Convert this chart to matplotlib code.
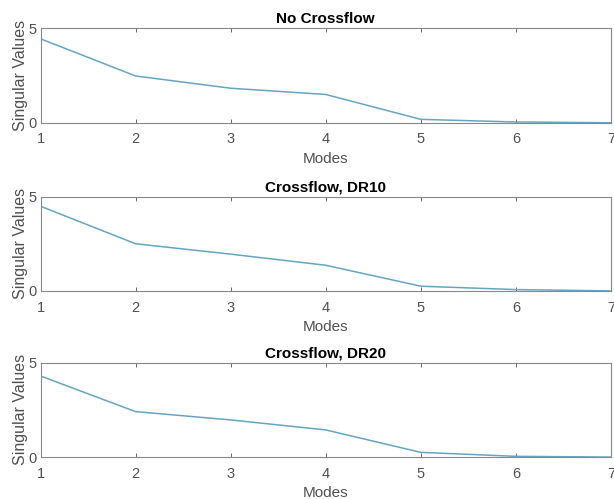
import matplotlib
matplotlib.use('Agg')
import matplotlib.pyplot as plt

plt.rcParams['font.family'] = ['Liberation Sans', 'DejaVu Sans']

modes = [1, 2, 3, 4, 5, 6, 7]
no_crossflow = [4.45, 2.48, 1.83, 1.50, 0.18, 0.04, 0.0]
crossflow_dr10 = [4.49, 2.50, 1.95, 1.36, 0.25, 0.07, 0.0]
crossflow_dr20 = [4.30, 2.41, 1.97, 1.44, 0.25, 0.04, 0.0]

titles = ['No Crossflow', 'Crossflow, DR10', 'Crossflow, DR20']
series = [no_crossflow, crossflow_dr10, crossflow_dr20]
bottoms = [0.754, 0.417, 0.084]

fig = plt.figure(figsize=(6.14, 4.99), dpi=100)

for title, values, b in zip(titles, series, bottoms):
    ax = fig.add_axes([0.066, b, 0.929, 0.189])
    ax.plot(modes, values, color='#64a6c2', linewidth=1.1)
    ax.set_xlim(1, 7)
    ax.set_ylim(0, 5)
    ax.set_xticks(modes)
    ax.set_yticks([0, 5])
    ax.set_title(title, fontsize=11, fontweight='bold', pad=4)
    ax.set_xlabel('Modes', fontsize=11, color='#505050', labelpad=4)
    ax.set_ylabel('Singular Values', fontsize=11.5, color='#505050', labelpad=0)
    ax.tick_params(direction='in', top=True, right=True, length=3,
                   labelsize=10.5, colors='#505050', width=0.6)
    ax.tick_params(axis='x', pad=7)
    ax.tick_params(axis='y', pad=3)
    for s in ax.spines.values():
        s.set_color('#888888')
        s.set_linewidth(0.8)

fig.savefig('out.png', dpi=100)
